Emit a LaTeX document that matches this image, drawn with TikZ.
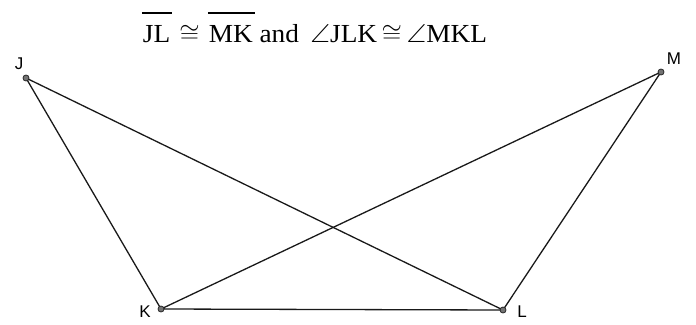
\documentclass[tikz,border=0pt]{standalone}
\usepackage{amssymb}
\usepackage{graphicx}
\usepackage{fontspec}
\setmainfont{Liberation Serif}
\newfontfamily\labelfont{Liberation Sans}
\newcommand\segover[1]{\setbox0\hbox{#1}\rlap{\kern-1pt\raisebox{28pt}{\rule{\dimexpr\wd0+3pt\relax}{1.8pt}}}\box0\relax}
\begin{document}
\begin{tikzpicture}[x=1pt,y=-1pt,
  pt/.style={circle,draw=black!85,fill=black!55,line width=0.8pt,inner sep=0pt,minimum size=6pt},
  lbl/.style={font=\labelfont\fontsize{17}{18}\selectfont,inner sep=0pt},
  seg/.style={line width=1.3pt,black!90}]
\useasboundingbox (0,0) rectangle (696,324);
\coordinate (J) at (26,78);
\coordinate (M) at (661,72);
\coordinate (K) at (161,309);
\coordinate (L) at (503,310);
\draw[seg] (J) -- (K) -- (L) -- (M) -- (K);
\draw[seg] (J) -- (L);
\node[pt] (pJ) at (J) {};
\node[pt] (pM) at (M) {};
\node[pt] (pK) at (K) {};
\node[pt] (pL) at (L) {};
\node[lbl] (lJ) at (19,64) {J};
\node[lbl] (lM) at (674,59) {M};
\node[lbl] (lK) at (145,312) {K};
\node[lbl] (lL) at (522,312) {L};
\node[anchor=base,inner sep=0pt,font=\fontsize{26}{28}\selectfont] (title) at (315,42)
  {\resizebox{344pt}{\height}{\segover{JL}\,\,$\cong$\,\,\segover{MK} and \,$\angle$JLK\,$\cong$\,$\angle$MKL}};
\end{tikzpicture}
\end{document}
